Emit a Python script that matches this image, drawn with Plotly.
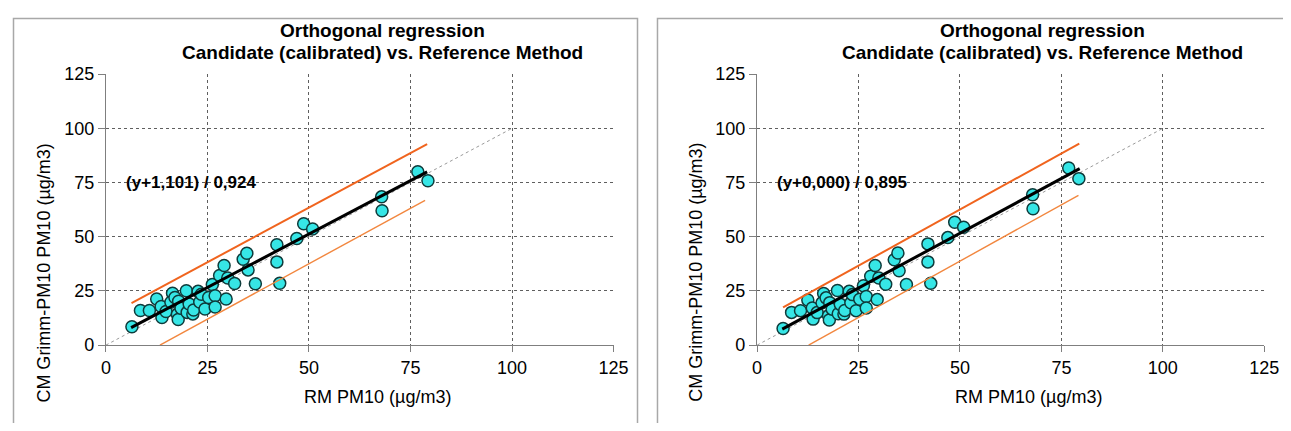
import plotly.graph_objects as go

# ---------------- data ----------------
rm_pm10 = [6.4, 8.5, 10.7, 12.5, 13.6, 13.8, 14.8, 16.4, 16.0, 17.0, 17.9, 17.6, 17.8, 18.5,
           19.8, 20.0, 20.5, 21.4, 21.6, 22.7, 23.1, 23.5, 24.4, 25.3, 26.2, 26.9, 26.9,
           28.0, 29.1, 29.6, 30.0, 31.7, 33.8, 34.7, 35.0, 36.8, 42.1, 42.1, 42.8, 47.0,
           48.7, 50.9, 67.9, 68.0, 76.8, 79.3]
cm_left = [8.5, 16.0, 16.0, 21.3, 17.8, 12.7, 15.5, 23.9, 19.8, 22.0, 20.2, 14.2, 11.8, 17.0,
           25.1, 15.1, 19.0, 14.4, 16.2, 24.8, 19.9, 23.5, 16.7, 22.0, 28.0, 22.8, 17.6,
           32.1, 36.7, 21.3, 31.0, 28.4, 39.6, 42.4, 34.7, 28.3, 46.3, 38.4, 28.5, 49.2,
           56.0, 53.6, 68.4, 62.0, 80.0, 75.8]
cm_right = [7.7, 15.1, 15.9, 20.8, 17.1, 12.0, 15.0, 23.8, 19.5, 21.8, 19.6, 13.6, 11.6, 16.6,
            25.2, 14.5, 18.8, 14.3, 16.0, 24.8, 19.5, 23.3, 15.9, 21.2, 27.4, 22.4, 17.1,
            31.8, 36.7, 21.0, 31.0, 28.1, 39.4, 42.5, 34.3, 28.0, 46.7, 38.4, 28.5, 49.6,
            56.7, 54.4, 69.4, 62.9, 81.7, 76.8]

reg_left_x = [6.2, 79.1]
reg_left_y = [8.1, 79.9]
upper_left_x = [6.3, 79.1]
upper_left_y = [19.4, 92.7]
lower_left_x = [13.3, 78.6]
lower_left_y = [0.0, 66.8]

reg_right_x = [6.2, 79.5]
reg_right_y = [7.4, 81.4]
upper_right_x = [6.4, 79.4]
upper_right_y = [17.4, 93.0]
lower_right_x = [12.7, 79.2]
lower_right_y = [0.0, 69.1]

diag_x = [0, 100]
diag_y = [0, 100]

equation_left = "(y+1,101) / 0,924"
equation_right = "(y+0,000) / 0,895"
title_line1 = "Orthogonal regression"
title_line2 = "Candidate (calibrated) vs. Reference Method"
x_title = "RM PM10 (µg/m3)"
y_title = "CM Grimm-PM10 PM10 (µg/m3)"
tick_vals = [0, 25, 50, 75, 100, 125]

# ---------------- layout helpers ----------------
W, H = 1275, 415          # figure size (page keeps its 8px body margin)
# observed placement of the figure in the photographed window
OFF_X, OFF_Y = 12.0, 18.0
SC_X, SC_Y = 0.9851, 0.9494
FONT = "Arial, Liberation Sans, sans-serif"


def fx(x):
    """target window pixel x -> figure pixel x"""
    return (x - OFF_X) / SC_X


def fy(y):
    """target window pixel y -> figure pixel y"""
    return (y - OFF_Y) / SC_Y


def px(x):
    return min(max(fx(x) / W, 0.0004), 0.9996)


def py(y):
    return min(max(1 - fy(y) / H, 0.0), 0.9988)


fig = go.Figure()

panels = [
    dict(xa="x", ya="y", y=cm_left, reg=(reg_left_x, reg_left_y), up=(upper_left_x, upper_left_y),
         lo=(lower_left_x, lower_left_y), eq=equation_left, off=0, toff=0),
    dict(xa="x2", ya="y2", y=cm_right, reg=(reg_right_x, reg_right_y), up=(upper_right_x, upper_right_y),
         lo=(lower_right_x, lower_right_y), eq=equation_right, off=651.7, toff=660),
]

for p in panels:
    fig.add_trace(go.Scatter(x=diag_x, y=diag_y, mode="lines", xaxis=p["xa"], yaxis=p["ya"],
                             line=dict(color="#9a9a9a", width=1, dash="dot"), showlegend=False,
                             hoverinfo="skip"))
    fig.add_trace(go.Scatter(x=rm_pm10, y=p["y"], mode="markers", xaxis=p["xa"], yaxis=p["ya"],
                             marker=dict(size=12, color="#36E6E6",
                                         line=dict(color="#0E3B3B", width=1.5)),
                             showlegend=False))
    fig.add_trace(go.Scatter(x=p["up"][0], y=p["up"][1], mode="lines", xaxis=p["xa"], yaxis=p["ya"],
                             line=dict(color="#F0641E", width=2), showlegend=False))
    fig.add_trace(go.Scatter(x=p["lo"][0], y=p["lo"][1], mode="lines", xaxis=p["xa"], yaxis=p["ya"],
                             line=dict(color="#F2873F", width=1.4), showlegend=False))
    fig.add_trace(go.Scatter(x=p["reg"][0], y=p["reg"][1], mode="lines", xaxis=p["xa"], yaxis=p["ya"],
                             line=dict(color="#000000", width=3), showlegend=False))
    fig.add_annotation(x=4.4, y=75, xref=p["xa"], yref=p["ya"], text="<b>%s</b>" % p["eq"],
                       showarrow=False, xanchor="left", yanchor="middle",
                       font=dict(family=FONT, size=17, color="#000000"))
    off, toff = p["off"], p["toff"]
    fig.add_annotation(x=px(382 + toff), y=py(30), xref="paper", yref="paper",
                       text="<b>%s</b>" % title_line1, showarrow=False,
                       xanchor="center", yanchor="middle",
                       font=dict(family=FONT, size=19, color="#000000"))
    fig.add_annotation(x=px(382 + toff), y=py(52), xref="paper", yref="paper",
                       text="<b>%s</b>" % title_line2, showarrow=False,
                       xanchor="center", yanchor="middle",
                       font=dict(family=FONT, size=19, color="#000000"))
    fig.add_annotation(x=px(377 + off), y=py(396), xref="paper", yref="paper",
                       text=x_title, showarrow=False, xanchor="center", yanchor="middle",
                       font=dict(family=FONT, size=18, color="#000000"))
    fig.add_annotation(x=px(43 + off), y=py(272), xref="paper", yref="paper",
                       text=y_title, showarrow=False, textangle=-90,
                       xanchor="center", yanchor="middle",
                       font=dict(family=FONT, size=18, color="#000000"))

# panel borders (bottom edge runs past the bottom of the window)
fig.add_shape(type="rect", xref="paper", yref="paper", x0=px(4), x1=px(637), y0=-0.05, y1=py(10),
              line=dict(color="#a8a8a8", width=1.5), fillcolor="rgba(0,0,0,0)", layer="below")
# right panel: its right edge lies past the window edge, so only left and top sides are drawn
rp_l, rp_t = px(657), py(10)
fig.add_shape(type="path", xref="paper", yref="paper",
              path="M %f,-0.05 L %f,%f L 1.02,%f" % (rp_l, rp_l, rp_t, rp_t),
              line=dict(color="#a8a8a8", width=1.5), layer="below")

axis_common = dict(range=[0, 125], tickvals=tick_vals, ticks="outside", tickcolor="#7f7f7f",
                   showline=True, linecolor="#7f7f7f", linewidth=1.3, zeroline=False,
                   showgrid=True, gridcolor="#5f5f5f", gridwidth=1, griddash="dot",
                   tickfont=dict(family=FONT, size=18, color="#000000"), fixedrange=True)

ybot, ytop = py(344.3), py(74)
fig.update_layout(
    width=W, height=H, autosize=False,
    margin=dict(l=0, r=0, t=0, b=0),
    paper_bgcolor="white", plot_bgcolor="white",
    showlegend=False,
    xaxis=dict(domain=[px(105), px(613)], anchor="y", ticklen=6, **axis_common),
    yaxis=dict(domain=[ybot, ytop], anchor="x", ticklen=7, **axis_common),
    xaxis2=dict(domain=[px(756.7), px(1264.3)], anchor="y2", ticklen=6, **axis_common),
    yaxis2=dict(domain=[ybot, ytop], anchor="x2", ticklen=7, **axis_common),
)

fig.write_html("out.html", config={"displayModeBar": False})
